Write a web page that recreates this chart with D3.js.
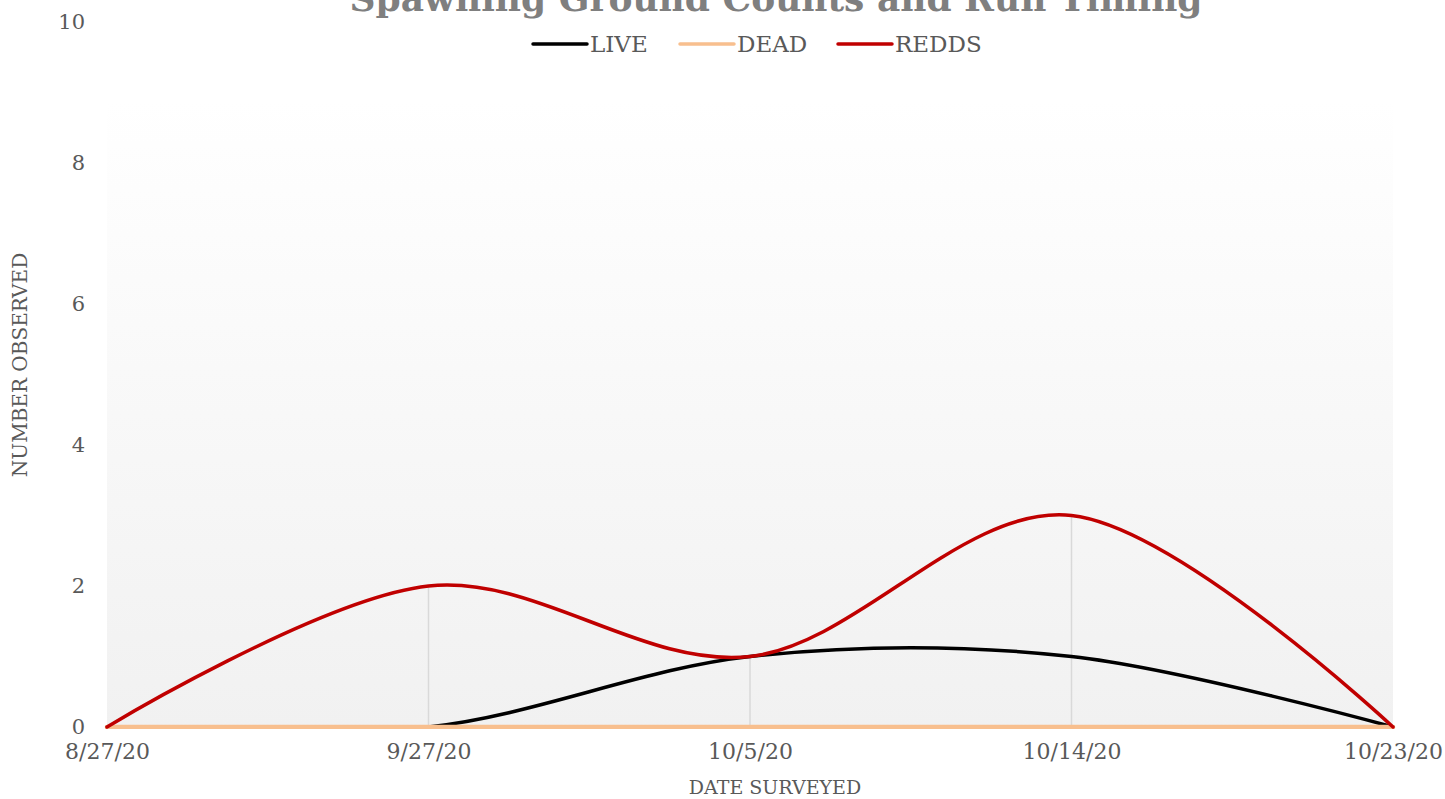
<!DOCTYPE html>
<html>
<head>
<meta charset="utf-8">
<script src="https://cdn.jsdelivr.net/npm/d3@7"></script>
<style>
  html, body { margin: 0; padding: 0; background: #ffffff; }
  svg { display: block; }
  text { font-family: "DejaVu Serif", "Liberation Serif", serif; }
</style>
</head>
<body>
<svg id="chart" width="1445" height="799"></svg>
<script>
const categories = ["8/27/20", "9/27/20", "10/5/20", "10/14/20", "10/23/20"];
const seriesNames = ["LIVE", "DEAD", "REDDS"];
const liveValues = [0, 0, 1, 1, 0];
const deadValues = [0, 0, 0, 0, 0];
const reddsValues = [0, 2, 1, 3, 0];
const yTicks = [0, 2, 4, 6, 8, 10];
const seriesColors = ["#000000", "#F8BF8E", "#C00000"];

const title = "Spawning Ground Counts and Run Timing";
const xTitle = "DATE SURVEYED";
const yTitle = "NUMBER OBSERVED";

const series = [
  { name: seriesNames[0], values: liveValues, color: seriesColors[0], width: 3.5 },
  { name: seriesNames[1], values: deadValues, color: seriesColors[1], width: 4.5 },
  { name: seriesNames[2], values: reddsValues, color: seriesColors[2], width: 3.5 }
];

const svg = d3.select("#chart");
const plot = { left: 107, right: 1393, top: 100, bottom: 727 };

const x = d3.scalePoint().domain(categories).range([plot.left, plot.right]);
const y = d3.scaleLinear().domain([0, 10]).range([plot.bottom, 22]);

// background gradient
const defs = svg.append("defs");
const grad = defs.append("linearGradient").attr("id", "bg").attr("x1", 0).attr("y1", 0).attr("x2", 0).attr("y2", 1);
grad.append("stop").attr("offset", "0%").attr("stop-color", "#ffffff");
grad.append("stop").attr("offset", "100%").attr("stop-color", "#f1f1f1");
defs.append("clipPath").attr("id", "clip").append("rect")
  .attr("x", plot.left - 4).attr("y", 0)
  .attr("width", plot.right - plot.left + 8).attr("height", plot.bottom + 2);

svg.append("rect")
  .attr("x", plot.left).attr("y", plot.top)
  .attr("width", plot.right - plot.left).attr("height", plot.bottom - plot.top)
  .attr("fill", "url(#bg)");

// drop lines
const maxVals = categories.map((c, i) => d3.max(series, s => s.values[i]));
svg.append("g").selectAll("line").data(categories.filter((c, i) => maxVals[i] > 0))
  .join("line")
  .attr("x1", d => x(d)).attr("x2", d => x(d))
  .attr("y1", d => y(maxVals[categories.indexOf(d)]))
  .attr("y2", y(0))
  .attr("stroke", "#d9d9d9").attr("stroke-width", 1.5);

// lines
const line = d3.line()
  .x((d, i) => x(categories[i]))
  .y(d => y(d))
  .curve(d3.curveCardinal.tension(0));

svg.append("g").attr("clip-path", "url(#clip)")
  .selectAll("path").data(series).join("path")
  .attr("d", d => line(d.values))
  .attr("fill", "none")
  .attr("stroke", d => d.color)
  .attr("stroke-width", d => d.width)
  .attr("stroke-linejoin", "round")
  .attr("stroke-linecap", "round");

// y axis
const yAxis = d3.axisLeft(y).tickValues(yTicks).tickSize(0).tickPadding(0);
const gy = svg.append("g").attr("transform", "translate(85,0)").call(yAxis);
gy.select(".domain").remove();
gy.selectAll("text").attr("fill", "#595959").attr("font-size", 21)
  .attr("font-family", "DejaVu Serif");

// x axis
const xAxis = d3.axisBottom(x).tickSize(0).tickPadding(0);
const gx = svg.append("g").attr("transform", `translate(0,${plot.bottom + 16})`).call(xAxis);
gx.select(".domain").remove();
gx.selectAll("text").attr("fill", "#595959").attr("font-size", 22)
  .attr("font-family", "DejaVu Serif");

// axis titles
svg.append("text").text(xTitle)
  .attr("x", 775).attr("y", 794)
  .attr("text-anchor", "middle").attr("fill", "#595959").attr("font-size", 19);
svg.append("text").text(yTitle)
  .attr("transform", "translate(27,365) rotate(-90)")
  .attr("text-anchor", "middle").attr("fill", "#595959").attr("font-size", 20);

// title
svg.append("text").text(title)
  .attr("x", 776).attr("y", 11)
  .attr("text-anchor", "middle").attr("fill", "#7f7f7f")
  .attr("font-size", 36).attr("font-weight", "bold");

// legend
const legendItems = [
  { name: seriesNames[0], color: seriesColors[0], x0: 533 },
  { name: seriesNames[1], color: seriesColors[1], x0: 680 },
  { name: seriesNames[2], color: seriesColors[2], x0: 838 }
];
const lg = svg.append("g");
legendItems.forEach(it => {
  lg.append("line").attr("x1", it.x0).attr("x2", it.x0 + 54)
    .attr("y1", 44).attr("y2", 44)
    .attr("stroke", it.color).attr("stroke-width", 3.5).attr("stroke-linecap", "round");
  lg.append("text").text(it.name).attr("x", it.x0 + 57).attr("y", 52)
    .attr("fill", "#595959").attr("font-size", 23);
});
</script>
</body>
</html>
